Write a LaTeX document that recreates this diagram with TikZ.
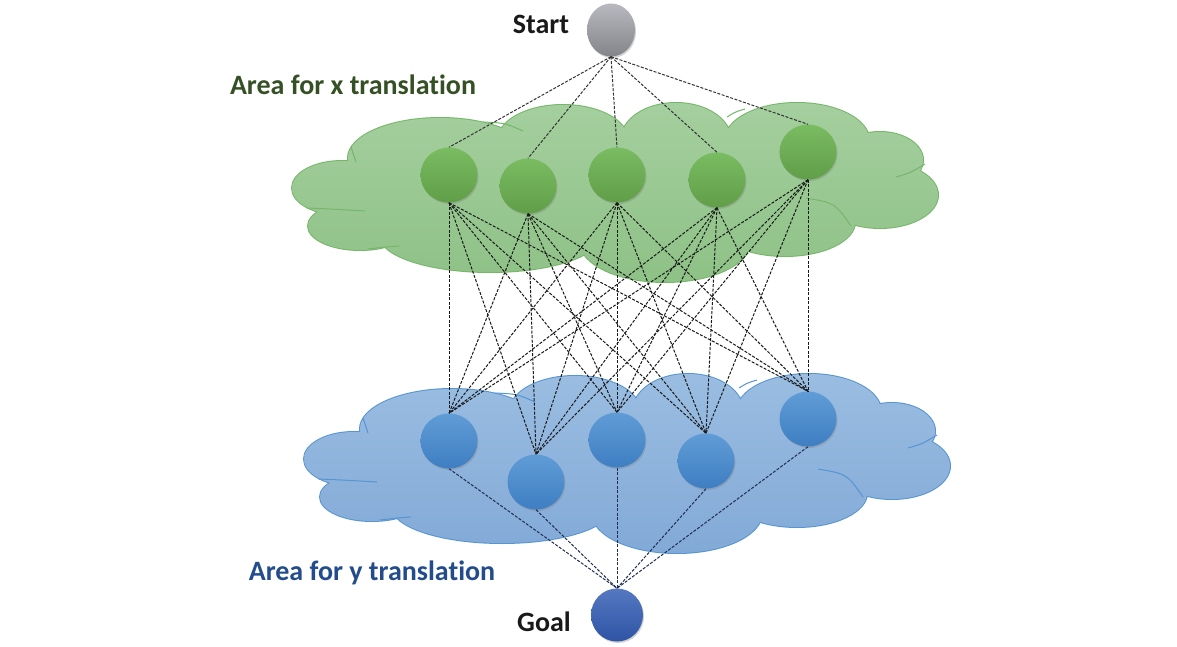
\documentclass[tikz,border=0pt]{standalone}
\usepackage{fontspec}
\setmainfont{Carlito}[Ligatures=NoCommon]
\usetikzlibrary{shapes.geometric,shadows}
\definecolor{gcloudT}{RGB}{166,208,160}
\definecolor{gcloudB}{RGB}{140,192,132}
\definecolor{gcloudE}{RGB}{118,182,106}
\definecolor{bcloudT}{RGB}{156,190,226}
\definecolor{bcloudB}{RGB}{128,168,214}
\definecolor{bcloudE}{RGB}{86,148,210}
\definecolor{gnodeT}{RGB}{122,188,98}
\definecolor{gnodeB}{RGB}{96,158,72}
\definecolor{bnodeT}{RGB}{96,156,214}
\definecolor{bnodeB}{RGB}{62,126,194}
\definecolor{goalT}{RGB}{86,120,194}
\definecolor{goalB}{RGB}{46,84,164}
\definecolor{startT}{RGB}{184,185,190}
\definecolor{startB}{RGB}{132,133,138}
\definecolor{xtext}{RGB}{52,80,36}
\definecolor{ytext}{RGB}{34,76,140}
\definecolor{navy}{RGB}{30,45,80}
\newcommand\cloudshape{%
 (342,188) ellipse [x radius=50,y radius=27]
 (360,226) ellipse [x radius=52,y radius=24]
 (440,158) ellipse [x radius=92,y radius=40]
 (563,140) ellipse [x radius=65,y radius=35]
 (676,140) ellipse [x radius=55,y radius=37]
 (797,140) ellipse [x radius=72,y radius=37]
 (880,160) ellipse [x radius=43,y radius=28]
 (880,195) ellipse [x radius=58,y radius=33]
 (785,222) ellipse [x radius=70,y radius=34]
 (665,242) ellipse [x radius=85,y radius=40]
 (490,236) ellipse [x radius=110,y radius=36]
 (615,190) ellipse [x radius=270,y radius=60]}
\newcommand\mycloud[3]{%
 \draw[#3, line width=2pt] \cloudshape;
 \begin{scope}
  \clip \cloudshape;
  \shade[top color=#1, bottom color=#2] (280,90) rectangle (960,300);
 \end{scope}
 \draw[#3, line width=1pt]
  (351,147) .. controls (354,154) .. (356,162)
  (483,122) .. controls (505,123) .. (523,131)
  (307,208) .. controls (330,209) .. (365,211)
  (368,249) .. controls (385,247) .. (399,246)
  (727,117) .. controls (735,112) .. (745,109)
  (896,177) .. controls (910,173) .. (925,164)
  (806,198) .. controls (835,203) .. (851,226);
}
\tikzset{
 lbl/.style={font=\fontsize{28}{30}\selectfont\bfseries, inner sep=0pt},
 ball/.style={ellipse, inner sep=0pt, minimum width=57pt, minimum height=55pt,
   drop shadow={shadow xshift=1pt, shadow yshift=-1.5pt, opacity=0.35}},
 gball/.style={ball, top color=gnodeT, bottom color=gnodeB},
 bball/.style={ball, top color=bnodeT, bottom color=bnodeB},
 link/.style={dashed, dash pattern=on 3pt off 1.5pt, line width=1pt},
}
\begin{document}
\begin{tikzpicture}[x=1pt,y=-1pt]
\useasboundingbox (0,0) rectangle (1177,647);
\fill[white] (0,0) rectangle (1177,647);
% clouds
\mycloud{gcloudT}{gcloudB}{gcloudE}
\begin{scope}[shift={(12,271)}]
\mycloud{bcloudT}{bcloudB}{bcloudE}
\end{scope}
% nodes
\node[ball, minimum width=48pt, minimum height=53pt, top color=startT, bottom color=startB] (S) at (611,30) {};
\node[gball] (G1) at (449,175) {};
\node[gball] (G2) at (528,186) {};
\node[gball] (G3) at (617,175) {};
\node[gball] (G4) at (717,180) {};
\node[gball] (G5) at (808,152) {};
\node[bball] (B1) at (449,441) {};
\node[bball] (B2) at (536,482) {};
\node[bball] (B3) at (617,440) {};
\node[bball] (B4) at (706,461) {};
\node[bball] (B5) at (808,419) {};
\node[ball, minimum width=52pt, minimum height=53pt, top color=goalT, bottom color=goalB] (T) at (617,615) {};
% labels
\node[lbl, anchor=base, text=black!90] (ls) at (541,34) {Start};
\node[lbl, anchor=base, text=xtext] (lx) at (353,95) {Area for x translation};
\node[lbl, anchor=base, text=ytext] (ly) at (372,580) {Area for y translation};
\node[lbl, anchor=base, text=black!90] (lg) at (544,631) {Goal};
% links
\foreach \g in {G1,G2,G3,G4,G5}
  \draw[link, black!80] (S.south) -- (\g.north);
\foreach \g in {G1,G2,G3,G4,G5}
  \foreach \b in {B1,B2,B3,B4,B5}
    \draw[link, black!90] (\g.south) -- (\b.north);
\foreach \b in {B1,B2,B3,B4,B5}
  \draw[link, navy] (\b.south) -- (T.north);
\end{tikzpicture}
\end{document}
